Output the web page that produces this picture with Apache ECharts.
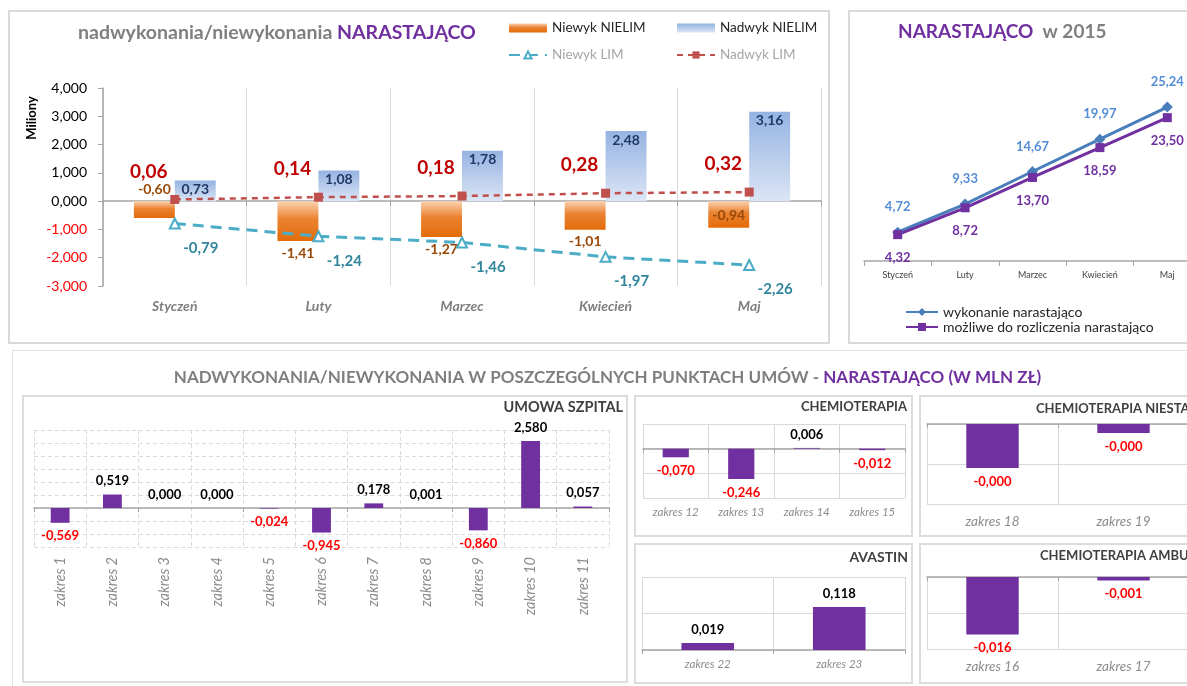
<!DOCTYPE html>
<html>
<head>
<meta charset="utf-8">
<script src="https://cdn.jsdelivr.net/npm/echarts@6/dist/echarts.min.js"></script>
<style>
  body { margin: 0; width: 1187px; height: 686px; overflow: hidden; background: #fff; position: relative; }
  .p { position: absolute; box-sizing: border-box; border: 2px solid #d9d9d9; background: #fff; }
  .s { border-color: #dcdcdc; z-index: 2; }
  #c3 { border: 1px solid #e3e3e3; border-right: none; border-bottom: none; z-index: 1; }
</style>
</head>
<body>
<div id="c1" class="p" style="left:8px;top:10px;width:822px;height:334px"></div>
<div id="c2" class="p" style="left:848px;top:10px;width:360px;height:334px"></div>
<div id="c3" class="p" style="left:12px;top:350px;width:1190px;height:345px"></div>
<div id="s1" class="p s" style="left:22px;top:395px;width:606px;height:288px"></div>
<div id="s2" class="p s" style="left:634px;top:395px;width:279px;height:142px"></div>
<div id="s3" class="p s" style="left:919px;top:395px;width:280px;height:142px"></div>
<div id="s4" class="p s" style="left:634px;top:543px;width:279px;height:141px"></div>
<div id="s5" class="p s" style="left:919px;top:543px;width:280px;height:141px"></div>
<script>
// dane (mln zł)
const months = ['Styczeń', 'Luty', 'Marzec', 'Kwiecień', 'Maj'];
const niewykNielim = [-0.60, -1.41, -1.27, -1.01, -0.94];
const nadwykNielim = [0.73, 1.08, 1.78, 2.48, 3.16];
const niewykLim = [-0.79, -1.24, -1.46, -1.97, -2.26];
const nadwykLim = [0.06, 0.14, 0.18, 0.28, 0.32];
const yAxisMain = [-3, 4, 1];

const wykonanie = [4.72, 9.33, 14.67, 19.97, 25.24];
const mozliwe = [4.32, 8.72, 13.70, 18.59, 23.50];

const szpitalCats = ['zakres 1', 'zakres 2', 'zakres 3', 'zakres 4', 'zakres 5', 'zakres 6',
  'zakres 7', 'zakres 8', 'zakres 9', 'zakres 10', 'zakres 11'];
const szpitalVals = [-0.569, 0.519, 0.000, 0.000, -0.024, -0.945, 0.178, 0.001, -0.860, 2.580, 0.057];
const chemioCats = ['zakres 12', 'zakres 13', 'zakres 14', 'zakres 15'];
const chemioVals = [-0.070, -0.246, 0.006, -0.012];
const niestCats = ['zakres 18', 'zakres 19'];
const niestVals = [-0.00044, -0.00009];
const avastinCats = ['zakres 22', 'zakres 23'];
const avastinVals = [0.019, 0.118];
const ambuCats = ['zakres 16', 'zakres 17'];
const ambuVals = [-0.016, -0.001];

const FONT = 'Lato, "Open Sans", sans-serif';
const fmt2 = v => Number(v).toFixed(2).replace('.', ',');
const fmt3 = v => Number(v).toFixed(3).replace('.', ',');

// --- wykres 1: nadwykonania/niewykonania
const c1 = echarts.init(document.getElementById('c1'));
const orangeGrad = new echarts.graphic.LinearGradient(0, 0, 0, 1, [
  { offset: 0, color: '#fbd3b0' }, { offset: 0.45, color: '#ea8231' }, { offset: 1, color: '#e36c09' }]);
const blueGrad = new echarts.graphic.LinearGradient(0, 0, 0, 1, [
  { offset: 0, color: '#95b3e2' }, { offset: 1, color: '#dbe5f5' }]);
const nielimLabelPos = ['top', 'bottom', 'bottom', 'bottom', 'insideBottom'];

c1.setOption({
  animation: false,
  textStyle: { fontFamily: FONT },
  title: {
    left: 68, top: 11, padding: 0,
    text: '{a|nadwykonania/niewykonania }{b|NARASTAJĄCO}',
    textStyle: { rich: {
      a: { fontSize: 19.5, fontWeight: 'bold', color: '#7f7f7f', fontFamily: FONT },
      b: { fontSize: 19.5, fontWeight: 'bold', color: '#7030a0', fontFamily: FONT }
    } }
  },
  legend: [
    { orient: 'vertical', left: 498, top: 9, padding: 0, itemWidth: 38, itemHeight: 9, itemGap: 13,
      textStyle: { fontSize: 13.5, fontFamily: FONT },
      data: [{ name: 'Niewyk NIELIM', icon: 'rect', textStyle: { color: '#262626' } },
             { name: 'Niewyk LIM', textStyle: { color: '#a6a6a6' } }] },
    { orient: 'vertical', left: 666, top: 9, padding: 0, itemWidth: 38, itemHeight: 9, itemGap: 13,
      textStyle: { fontSize: 13.5, fontFamily: FONT },
      data: [{ name: 'Nadwyk NIELIM', icon: 'rect', textStyle: { color: '#262626' } },
             { name: 'Nadwyk LIM', textStyle: { color: '#a6a6a6' } }] }
  ],
  graphic: [{ type: 'text', x: 22, y: 106, rotation: Math.PI / 2,
    style: { text: 'Miliony', font: 'bold 13px ' + FONT, fill: '#000', align: 'center', verticalAlign: 'middle' } }],
  grid: { left: 93, right: 7, top: 76, bottom: 56 },
  xAxis: [
    { type: 'category', data: months, position: 'bottom',
      axisLine: { show: false, onZero: false }, axisTick: { show: false },
      axisLabel: { margin: 13, fontSize: 14, fontStyle: 'italic', fontWeight: 'bold', color: '#7f7f7f' },
      splitLine: { show: true, lineStyle: { color: '#d9d9d9' } } },
    { type: 'category', data: months, position: 'top',
      axisLine: { onZero: true, lineStyle: { color: '#a6a6a6', width: 1.5 } },
      axisTick: { show: true, inside: true, length: 5, lineStyle: { color: '#a6a6a6' } },
      axisLabel: { show: false }, splitLine: { show: false } }
  ],
  yAxis: {
    type: 'value', min: yAxisMain[0], max: yAxisMain[1], interval: yAxisMain[2],
    axisLine: { show: true, lineStyle: { color: '#a6a6a6', width: 1.5 } },
    axisTick: { show: true, length: 5, lineStyle: { color: '#a6a6a6' } },
    splitLine: { show: false },
    axisLabel: { margin: 16, fontSize: 14, formatter: fmt3,
      color: v => (Number(v) < 0 ? '#ff0000' : '#000000') }
  },
  series: [
    { name: 'Niewyk NIELIM', type: 'bar', barGap: '0%', barCategoryGap: '43%',
      data: niewykNielim.map((v, i) => ({ value: v, label: { position: nielimLabelPos[i] } })),
      itemStyle: { color: orangeGrad },
      label: { show: true, formatter: p => fmt2(p.value), color: '#984807', fontWeight: 'bold', fontSize: 14 } },
    { name: 'Nadwyk NIELIM', type: 'bar', data: nadwykNielim,
      itemStyle: { color: blueGrad },
      label: { show: true, position: 'insideTop', distance: 2, formatter: p => fmt2(p.value),
        color: '#1f3864', fontWeight: 'bold', fontSize: 14 } },
    { name: 'Niewyk LIM', type: 'line', data: niewykLim, symbol: 'triangle', symbolSize: 10,
      lineStyle: { color: '#4bacc6', width: 3, type: [11, 7] },
      itemStyle: { color: '#ffffff', borderColor: '#4bacc6', borderWidth: 2 },
      label: { show: true, position: 'bottom', offset: [26, 6], formatter: p => fmt2(p.value),
        color: '#31859c', fontWeight: 'bold', fontSize: 15 } },
    { name: 'Nadwyk LIM', type: 'line', data: nadwykLim, symbol: 'rect', symbolSize: 9,
      lineStyle: { color: '#c0504d', width: 2.5, type: [6, 5] },
      itemStyle: { color: '#c0504d' },
      label: { show: true, position: 'top', offset: [-26, -9], formatter: p => fmt2(p.value),
        color: '#c00000', fontWeight: 'bold', fontSize: 19 } }
  ]
});

// --- wykres 2: narastająco w 2015
const c2 = echarts.init(document.getElementById('c2'));
c2.setOption({
  animation: false,
  textStyle: { fontFamily: FONT },
  title: {
    left: 48, top: 10, padding: 0,
    text: '{a|NARASTAJĄCO}{b|  w 2015}',
    textStyle: { rich: {
      a: { fontSize: 19, fontWeight: 'bold', color: '#7030a0', fontFamily: FONT },
      b: { fontSize: 19, fontWeight: 'bold', color: '#7f7f7f', fontFamily: FONT }
    } }
  },
  legend: { orient: 'vertical', left: 55, top: 293, padding: 0, itemWidth: 32, itemHeight: 10, itemGap: 1,
    textStyle: { fontSize: 14, color: '#262626', fontFamily: FONT } },
  grid: { left: 14, right: 5, top: 66, bottom: 81 },
  xAxis: { type: 'category', data: months,
    axisLine: { lineStyle: { color: '#a6a6a6', width: 1.5 } },
    axisTick: { show: true, length: 5, lineStyle: { color: '#a6a6a6' } },
    axisLabel: { fontSize: 9, color: '#404040', margin: 10 } },
  yAxis: { type: 'value', min: 0, max: 30, show: false },
  series: [
    { name: 'wykonanie narastająco', type: 'line', data: wykonanie, symbol: 'diamond', symbolSize: 11,
      lineStyle: { color: '#4a7ebb', width: 3 }, itemStyle: { color: '#4a7ebb' },
      label: { show: true, position: 'top', distance: 13, formatter: p => fmt2(p.value),
        color: '#558ed5', fontWeight: 'bold', fontSize: 13 } },
    { name: 'możliwe do rozliczenia narastająco', type: 'line', data: mozliwe, symbol: 'rect', symbolSize: 9,
      lineStyle: { color: '#7030a0', width: 3 }, itemStyle: { color: '#7030a0' },
      label: { show: true, position: 'bottom', distance: 12, formatter: p => fmt2(p.value),
        color: '#7030a0', fontWeight: 'bold', fontSize: 13 } }
  ]
});

// --- kontener dolny: tylko tytuł
const c3 = echarts.init(document.getElementById('c3'));
c3.setOption({
  animation: false,
  title: {
    left: 'center', top: 18, padding: 0,
    text: '{a|NADWYKONANIA/NIEWYKONANIA W POSZCZEGÓLNYCH PUNKTACH UMÓW - }{b|NARASTAJĄCO (W MLN ZŁ)}',
    textStyle: { rich: {
      a: { fontSize: 17, fontWeight: 'bold', color: '#7f7f7f', fontFamily: FONT },
      b: { fontSize: 17, fontWeight: 'bold', color: '#7030a0', fontFamily: FONT }
    } }
  }
});

// --- małe wykresy słupkowe
function smallChart(id, cats, vals, axis, cfg) {
  const c = echarts.init(document.getElementById(id));
  const gridLine = { color: '#d9d9d9', type: cfg.dashed ? [4, 3] : 'solid' };
  c.setOption({
    animation: false,
    textStyle: { fontFamily: FONT },
    title: Object.assign({ text: cfg.title, padding: 0,
      textStyle: { fontSize: cfg.titleSize || 14, fontWeight: 'bold', color: '#404040', fontFamily: FONT } }, cfg.titlePos),
    grid: cfg.grid,
    xAxis: [
      { type: 'category', data: cats, position: 'bottom',
        axisLine: { show: false, onZero: false }, axisTick: { show: false },
        axisLabel: { interval: 0, rotate: cfg.rotate || 0, margin: cfg.margin, fontSize: cfg.labelSize,
          fontStyle: 'italic', color: '#8c8c8c' },
        splitLine: { show: true, lineStyle: gridLine } },
      { type: 'category', data: cats, position: 'top',
        axisLine: { onZero: true, lineStyle: { color: '#a6a6a6', width: 1.5 } },
        axisTick: { show: true, inside: true, length: 4, lineStyle: { color: '#a6a6a6' } },
        axisLabel: { show: false }, splitLine: { show: false } }
    ],
    yAxis: { type: 'value', min: axis[0], max: axis[1], interval: axis[2],
      axisLine: { show: false }, axisTick: { show: false }, axisLabel: { show: false },
      splitLine: { lineStyle: gridLine } },
    series: [{
      type: 'bar', barWidth: cfg.barWidth,
      data: vals.map(v => ({ value: v, label: { position: v < 0 ? 'bottom' : 'top', color: v < 0 ? '#ff0000' : '#000000' } })),
      itemStyle: { color: '#7030a0' },
      label: { show: true, fontWeight: 'bold', fontSize: 13, distance: 7, formatter: p => fmt3(p.value) }
    }]
  });
}

smallChart('s1', szpitalCats, szpitalVals, [-1.5, 3, 0.5], {
  title: 'UMOWA SZPITAL', titleSize: 14.5, titlePos: { right: 3, top: 3 },
  grid: { left: 10, right: 17, top: 33, bottom: 134 },
  dashed: true, rotate: 90, margin: 10, labelSize: 14.5, barWidth: '36%'
});
smallChart('s2', chemioCats, chemioVals, [-0.4, 0.2, 0.2], {
  title: 'CHEMIOTERAPIA', titleSize: 13, titlePos: { right: 4, top: 3 },
  grid: { left: 7, right: 6, top: 27, bottom: 37 },
  margin: 8, labelSize: 11.5, barWidth: '40%'
});
smallChart('s3', niestCats, niestVals, [-0.0008, 0, 0.0004], {
  title: 'CHEMIOTERAPIA NIESTANDARDOWA', titleSize: 13, titlePos: { left: 115, top: 5 },
  grid: { left: 6, right: 8, top: 27, bottom: 31 },
  margin: 11, labelSize: 13.5, barWidth: '40%'
});
smallChart('s4', avastinCats, avastinVals, [0, 0.2, 0.1], {
  title: 'AVASTIN', titlePos: { right: 3, top: 5 },
  grid: { left: 6, right: 6, top: 32, bottom: 32 },
  margin: 8, labelSize: 11.5, barWidth: '40%'
});
smallChart('s5', ambuCats, ambuVals, [-0.02, 0, 0.01], {
  title: 'CHEMIOTERAPIA AMBULATORYJNA', titleSize: 13, titlePos: { left: 119, top: 4 },
  grid: { left: 6, right: 8, top: 32, bottom: 33 },
  margin: 11, labelSize: 13.5, barWidth: '40%'
});
</script>
</body>
</html>
